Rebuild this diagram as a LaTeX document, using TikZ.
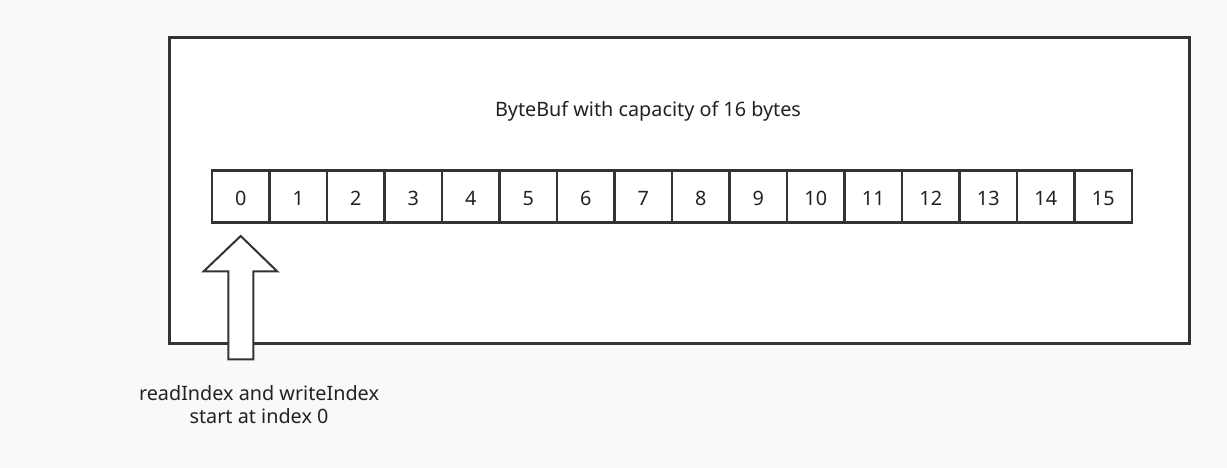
\documentclass[tikz,border=0pt]{standalone}
\usepackage{fontspec}
\setmainfont{Noto Sans}
\definecolor{bg}{HTML}{F9F9F9}
\definecolor{ln}{HTML}{333333}
\definecolor{tx}{HTML}{222222}
\begin{document}
\begin{tikzpicture}[x=1bp,y=-1bp,
  lbl/.style={font=\fontsize{19.8bp}{23bp}\selectfont, text=tx, inner sep=0pt},
  cell/.style={draw=ln, line width=2.6bp, minimum width=57.5bp, minimum height=52.5bp, inner sep=0pt, outer sep=0pt, fill=white, font=\fontsize{19.8bp}{23bp}\selectfont, text=tx, text height=19bp, text depth=0pt},
  outer/.style={draw=ln, line width=3bp, fill=white},
  blockarrow/.style={draw=ln, line width=2bp, fill=white, line join=miter}
]
\fill[bg] (0,0) rectangle (1227,468);
\useasboundingbox (0,0) rectangle (1227,468);
\draw[outer] (169,37.3) rectangle (1189,343.3);
\node[lbl] (title) at (648,111) {ByteBuf with capacity of 16 bytes};
\foreach \i in {0,...,15} {
  \node[cell] (c\i) at ({212+57.5*\i+28.75},196.5) {\i};
}
\coordinate (tip) at (240.7,236);
\draw[blockarrow] (tip) -- (277.3,271.5) -- (253.3,271.5) -- (253.3,359.5) -- (228.3,359.5) -- (228.3,271.5) -- (203.5,271.5) -- cycle;
\node[lbl, align=center] (note) at (259,405) {readIndex and writeIndex\\start at index 0};
\end{tikzpicture}
\end{document}
